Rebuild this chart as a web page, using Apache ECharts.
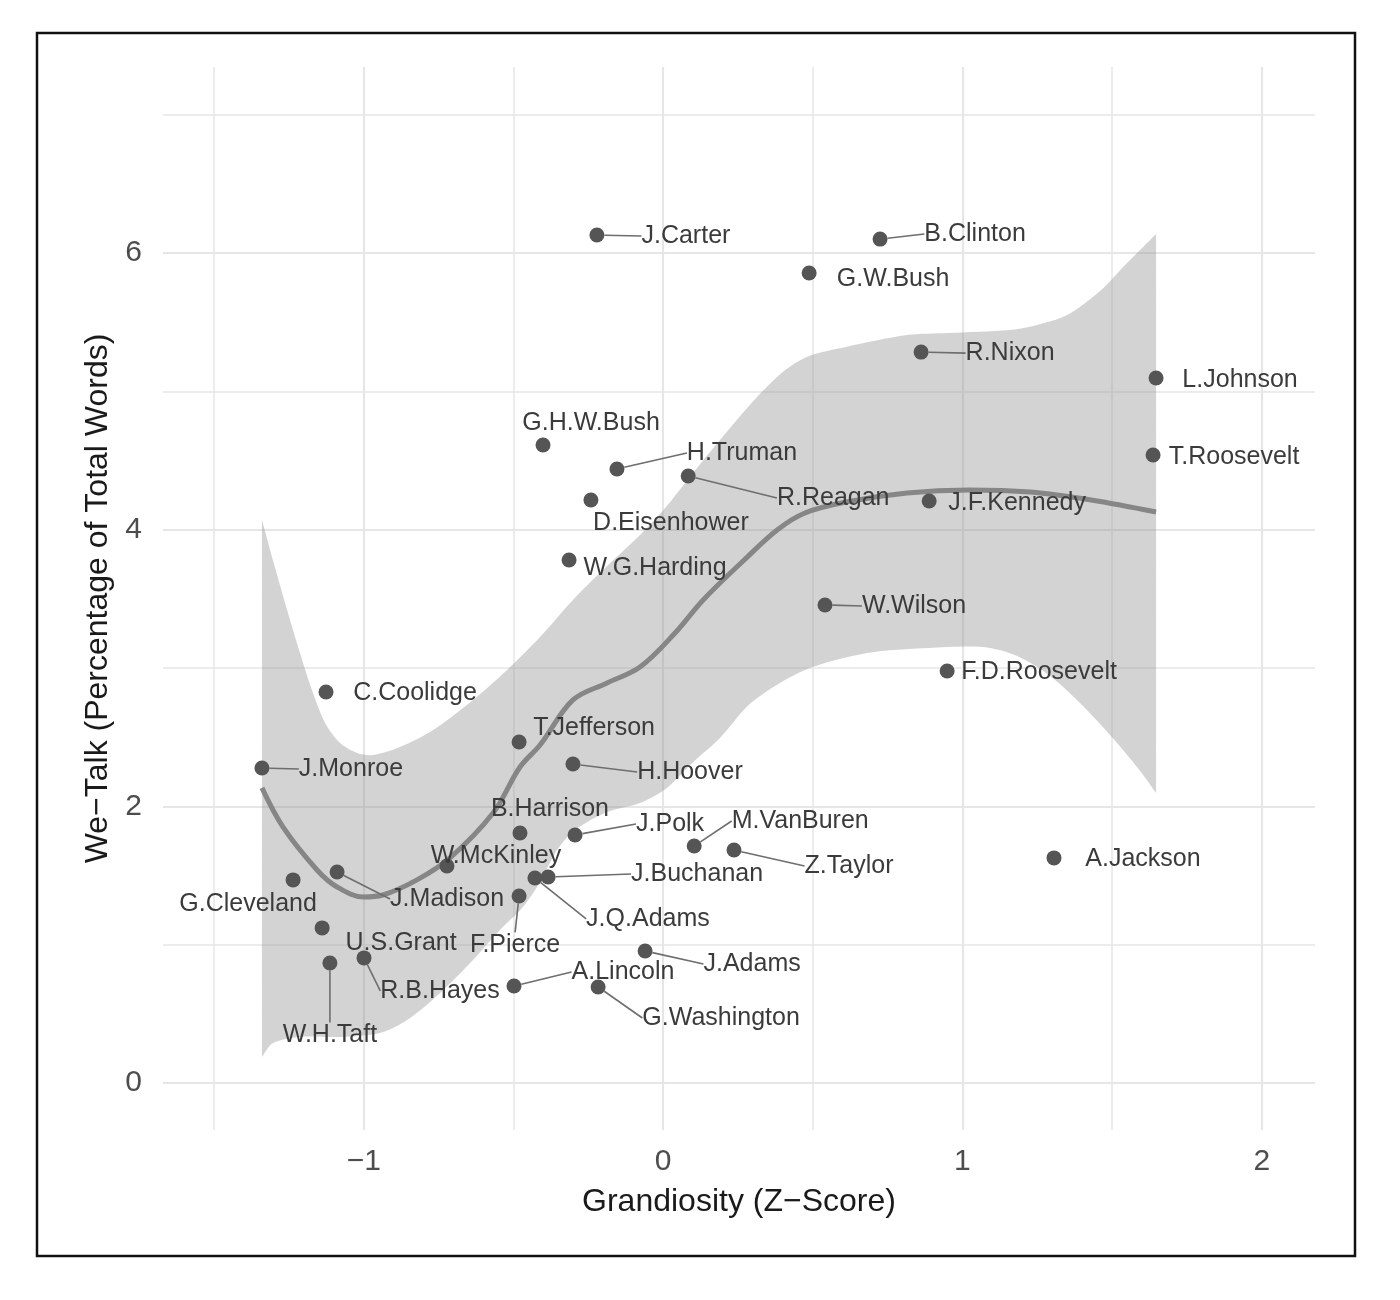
<!DOCTYPE html>
<html>
<head>
<meta charset="utf-8">
<title>We-Talk vs Grandiosity</title>
<script src="https://cdn.jsdelivr.net/npm/echarts@6/dist/echarts.min.js"></script>
<style>
  html, body { margin: 0; padding: 0; background: #fff; }
  #chart { width: 1400px; height: 1300px; }
</style>
</head>
<body>
<div id="chart"></div>
<script>
// presidents, grandiosity (z-score) and we-talk (% of total words)
var presidents = ['J.Carter', 'B.Clinton', 'G.W.Bush', 'R.Nixon', 'L.Johnson', 'T.Roosevelt',
  'G.H.W.Bush', 'H.Truman', 'R.Reagan', 'D.Eisenhower', 'J.F.Kennedy', 'W.G.Harding',
  'W.Wilson', 'F.D.Roosevelt', 'C.Coolidge', 'T.Jefferson', 'J.Monroe', 'H.Hoover',
  'B.Harrison', 'J.Polk', 'M.VanBuren', 'Z.Taylor', 'A.Jackson', 'W.McKinley',
  'J.Madison', 'G.Cleveland', 'J.Buchanan', 'J.Q.Adams', 'F.Pierce', 'U.S.Grant',
  'R.B.Hayes', 'W.H.Taft', 'J.Adams', 'A.Lincoln', 'G.Washington'];
var grandiosity = [-0.221, 0.725, 0.488, 0.862, 1.647, 1.637,
  -0.401, -0.154, 0.084, -0.241, 0.889, -0.314,
  0.541, 0.949, -1.126, -0.481, -1.340, -0.301,
  -0.478, -0.294, 0.104, 0.237, 1.306, -0.722,
  -1.089, -1.236, -0.384, -0.428, -0.481, -1.139,
  -0.999, -1.113, -0.060, -0.498, -0.217];
var weTalk = [6.130, 6.101, 5.856, 5.284, 5.097, 4.540,
  4.612, 4.439, 4.388, 4.215, 4.207, 3.781,
  3.456, 2.978, 2.827, 2.465, 2.277, 2.306,
  1.807, 1.793, 1.713, 1.684, 1.627, 1.569,
  1.525, 1.468, 1.489, 1.482, 1.352, 1.121,
  0.904, 0.867, 0.954, 0.701, 0.694];

// loess fit
var fitX = [-1.340, -1.270, -1.156, -1.089, -1.002, -0.936, -0.822, -0.712, -0.568, -0.478,
  -0.411, -0.301, -0.187, -0.077, 0.040, 0.134, 0.271, 0.381, 0.474, 0.611,
  0.815, 1.022, 1.226, 1.430, 1.647];
var fitY = [2.133, 1.851, 1.540, 1.417, 1.345, 1.359, 1.468, 1.627, 1.952, 2.284,
  2.443, 2.769, 2.892, 3.007, 3.253, 3.492, 3.781, 3.998, 4.121, 4.200,
  4.265, 4.287, 4.272, 4.215, 4.128];

// confidence band edges
var upperX = [-1.340, -1.297, -1.253, -1.213, -1.173, -1.129, -1.079, -1.022, -0.969, -0.879,
  -0.768, -0.635, -0.521, -0.411, -0.301, -0.187, -0.077, 0.007, 0.087, 0.204,
  0.311, 0.408, 0.488, 0.611, 0.815, 0.952, 1.156, 1.236, 1.350, 1.460,
  1.550, 1.604, 1.647];
var upperY = [4.070, 3.730, 3.398, 3.109, 2.841, 2.603, 2.458, 2.386, 2.371, 2.429,
  2.552, 2.769, 2.986, 3.224, 3.492, 3.737, 3.962, 4.157, 4.374, 4.684,
  4.952, 5.154, 5.256, 5.321, 5.407, 5.422, 5.444, 5.473, 5.552, 5.725,
  5.928, 6.044, 6.137];
var lowerX = [-1.340, -1.303, -1.213, -1.079, -0.946, -0.855, -0.745, -0.635, -0.545, -0.468,
  -0.411, -0.354, -0.294, -0.187, -0.077, 0.013, 0.090, 0.190, 0.297, 0.474,
  0.682, 0.885, 1.069, 1.183, 1.293, 1.403, 1.517, 1.594, 1.647];
var lowerY = [0.188, 0.289, 0.333, 0.333, 0.361, 0.455, 0.651, 0.889, 1.106, 1.272,
  1.453, 1.684, 1.829, 1.959, 2.024, 2.133, 2.299, 2.494, 2.754, 2.986,
  3.109, 3.145, 3.152, 3.087, 2.942, 2.725, 2.458, 2.255, 2.096];

// axis ticks
var xTicks = [-1, 0, 1, 2];
var yTicks = [0, 2, 4, 6];
var xGrid = [-1.5, -1, -0.5, 0, 0.5, 1, 1.5, 2];
var yGrid = [0, 1, 2, 3, 4, 5, 6, 7];

// label placement (pixel offset of label centre from the point, leader line or not)
var labelPlace = {
  'J.Carter': [89, 1, true], 'B.Clinton': [95, -5, true], 'G.W.Bush': [84, 6, false],
  'R.Nixon': [89, 1, true], 'L.Johnson': [84, 2, false], 'T.Roosevelt': [81, 2, false],
  'G.H.W.Bush': [48, -22, false], 'H.Truman': [125, -16, true], 'R.Reagan': [145, 22, true],
  'D.Eisenhower': [80, 23, false], 'J.F.Kennedy': [88, 2, false], 'W.G.Harding': [86, 8, false],
  'W.Wilson': [89, 1, true], 'F.D.Roosevelt': [92, 1, false], 'C.Coolidge': [89, 1, false],
  'T.Jefferson': [75, -14, false], 'J.Monroe': [89, 1, true], 'H.Hoover': [117, 8, true],
  'B.Harrison': [30, -24, false], 'J.Polk': [95, -11, true], 'M.VanBuren': [106, -25, true],
  'Z.Taylor': [115, 16, true], 'A.Jackson': [89, 1, false], 'W.McKinley': [49, -10, false],
  'J.Madison': [110, 27, true], 'G.Cleveland': [-45, 24, false], 'J.Buchanan': [149, -3, true],
  'J.Q.Adams': [113, 41, true], 'F.Pierce': [-4, 49, true], 'U.S.Grant': [79, 15, false],
  'R.B.Hayes': [76, 33, true], 'W.H.Taft': [0, 72, true], 'J.Adams': [107, 13, true],
  'A.Lincoln': [109, -14, true], 'G.Washington': [123, 31, true]
};

var font = "'Liberation Sans', Arial, Helvetica, sans-serif";

var points = presidents.map(function (n, i) {
  return {
    name: n,
    value: [grandiosity[i], weTalk[i]],
    labelLine: { show: labelPlace[n][2] }
  };
});
var fitData = fitX.map(function (x, i) { return [x, fitY[i]]; });

function minus(v) {
  return v < 0 ? '\u2212' + Math.abs(v) : String(v);
}

var chart = echarts.init(document.getElementById('chart'), null, { renderer: 'canvas' });

var option = {
  backgroundColor: '#ffffff',
  animation: false,
  textStyle: { fontFamily: font },
  graphic: [{
    type: 'rect',
    shape: { x: 37, y: 33, width: 1318, height: 1223 },
    style: { fill: 'none', stroke: '#111', lineWidth: 2.5 },
    z: 100
  }],
  grid: { left: 163, top: 67, width: 1152, height: 1063 },
  xAxis: {
    type: 'value',
    min: -1.6706,
    max: 2.178,
    name: 'Grandiosity (Z\u2212Score)',
    nameLocation: 'middle',
    nameGap: 56,
    nameTextStyle: { fontSize: 32, color: '#1a1a1a', fontFamily: font },
    axisLine: { show: false },
    axisTick: { show: false },
    splitLine: { show: false },
    axisLabel: {
      customValues: xTicks,
      formatter: minus,
      fontSize: 30,
      color: '#4d4d4d',
      margin: 17,
      fontFamily: font
    }
  },
  yAxis: {
    type: 'value',
    min: -0.34,
    max: 7.345,
    name: 'We\u2212Talk (Percentage of Total Words)',
    nameLocation: 'middle',
    nameGap: 47,
    nameRotate: 90,
    nameTextStyle: { fontSize: 32, color: '#1a1a1a', fontFamily: font },
    axisLine: { show: false },
    axisTick: { show: false },
    splitLine: { show: false },
    axisLabel: {
      customValues: yTicks,
      formatter: minus,
      fontSize: 30,
      color: '#4d4d4d',
      margin: 21,
      fontFamily: font
    }
  },
  series: [
    {
      // confidence ribbon
      type: 'custom',
      z: 2,
      silent: true,
      data: [[upperX[0], upperY[0]]],
      renderItem: function (params, api) {
        var pts = [];
        pts.push(api.coord([upperX[0], upperY[0]]));
        for (var i = 0; i < upperX.length; i++) {
          pts.push(api.coord([upperX[i], upperY[i]]));
        }
        pts.push(api.coord([upperX[upperX.length - 1], upperY[upperY.length - 1]]));
        pts.push(api.coord([lowerX[lowerX.length - 1], lowerY[lowerY.length - 1]]));
        for (var j = lowerX.length - 1; j >= 0; j--) {
          pts.push(api.coord([lowerX[j], lowerY[j]]));
        }
        pts.push(api.coord([lowerX[0], lowerY[0]]));
        return {
          type: 'polygon',
          shape: { points: pts, smooth: 0.3 },
          style: { fill: 'rgba(150,150,150,0.42)', stroke: null }
        };
      }
    },
    {
      // loess line, also carries the grid lines
      type: 'line',
      z: 3,
      silent: true,
      data: fitData,
      smooth: 0.35,
      showSymbol: false,
      lineStyle: { color: '#868686', width: 5 },
      markLine: {
        z: 1,
        silent: true,
        symbol: 'none',
        label: { show: false },
        data: xGrid.map(function (v) {
          return { xAxis: v, lineStyle: { color: '#e6e6e6', width: v % 1 === 0 ? 2.2 : 1.5, type: 'solid' } };
        }).concat(yGrid.map(function (v) {
          return { yAxis: v, lineStyle: { color: '#e6e6e6', width: v % 2 === 0 ? 2.2 : 1.5, type: 'solid' } };
        }))
      }
    },
    {
      type: 'scatter',
      z: 4,
      data: points,
      symbolSize: 15,
      itemStyle: { color: '#555555', opacity: 1 },
      label: {
        show: true,
        formatter: '{b}',
        fontSize: 25,
        color: '#3b3b3b',
        fontFamily: font
      },
      labelLine: {
        show: true,
        lineStyle: { color: '#6e6e6e', width: 1.6 }
      },
      labelLayout: function (p) {
        var o = labelPlace[presidents[p.dataIndex]];
        return {
          x: p.rect.x + p.rect.width / 2 + o[0],
          y: p.rect.y + p.rect.height / 2 + o[1],
          align: 'center',
          verticalAlign: 'middle'
        };
      }
    }
  ]
};

chart.setOption(option);
</script>
</body>
</html>
